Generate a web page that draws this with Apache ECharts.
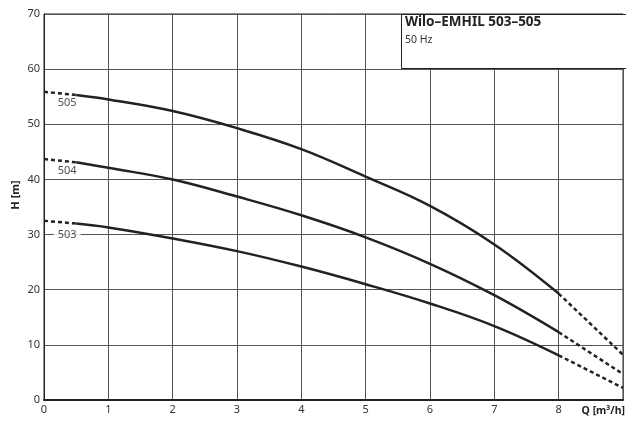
<!DOCTYPE html>
<html>
<head>
<meta charset="utf-8">
<script src="https://cdn.jsdelivr.net/npm/echarts@6/dist/echarts.min.js"></script>
<style>html,body{margin:0;padding:0;background:#fff;}#c{width:626px;height:421px;}</style>
</head>
<body>
<div id="c"></div>
<script>
// Flow Q [m3/h] sample points for the solid (operating) part
const qSolid = [0.5, 1, 2, 3, 4, 5, 6, 7, 8];
const h505 = [55.3, 54.5, 52.4, 49.3, 45.5, 40.5, 35.2, 28.2, 19.3];
const h504 = [43.1, 42.1, 40.0, 36.9, 33.5, 29.5, 24.7, 19.0, 12.3];
const h503 = [32.0, 31.3, 29.3, 27.0, 24.2, 21.0, 17.5, 13.4, 8.1];
// dashed extensions: head at Q=0 and head at Q=9
const qStart = 0, qEnd = 9;
const h505Start = 55.9, h504Start = 43.7, h503Start = 32.5;
const h505End = 8.2, h504End = 4.7, h503End = 2.2;
// curve labels
const curveNames = ['505', '504', '503'];
const labelQ = [0.36, 0.36, 0.36];
const labelH = [53.9, 41.5, 29.9];
const xTicks = [0, 1, 2, 3, 4, 5, 6, 7, 8];
const yTicks = [0, 10, 20, 30, 40, 50, 60, 70];
const titleText = 'Wilo–EMHIL 503–505';
const subText = '50 Hz';

const FONT = 'Noto Sans';
const lineColor = '#222';
const zip = (xs, ys) => xs.map((x, i) => [x, ys[i]]);

function curveSeries(h, hs, he) {
  return [
    { type: 'line', data: zip(qSolid, h), smooth: 0.4, symbol: 'none',
      lineStyle: { color: lineColor, width: 2.5 }, z: 5 },
    { type: 'line', data: [[qStart, hs], [qSolid[0], h[0]]], symbol: 'none',
      lineStyle: { color: lineColor, width: 2.5, type: [4, 3] }, z: 5 },
    { type: 'line', data: [[qSolid[qSolid.length - 1], h[h.length - 1]], [qEnd, he]], symbol: 'none',
      lineStyle: { color: lineColor, width: 2.5, type: [4, 3] }, z: 5 }
  ];
}

const chart = echarts.init(document.getElementById('c'), null, { renderer: 'canvas' });
chart.setOption({
  animation: false,
  backgroundColor: '#fff',
  textStyle: { fontFamily: FONT },
  grid: { left: 44, right: 0, top: 14, bottom: 21, show: true, borderColor: '#222', borderWidth: 1, containLabel: false },
  xAxis: {
    type: 'value', min: 0, max: 9, interval: 1,
    axisLine: { show: true, onZero: false, lineStyle: { color: '#222', width: 2 } },
    axisTick: { show: false },
    splitLine: { show: true, lineStyle: { color: '#555', width: 1 } },
    axisLabel: {
      color: '#333', fontSize: 11, fontFamily: FONT, margin: 4,
      formatter: v => (xTicks.indexOf(v) >= 0 ? String(v) : '')
    }
  },
  yAxis: {
    type: 'value', min: 0, max: 70, interval: 10,
    axisLine: { show: true, lineStyle: { color: '#222', width: 1 } },
    axisTick: { show: false },
    splitLine: { show: true, lineStyle: { color: '#555', width: 1 } },
    axisLabel: {
      color: '#333', fontSize: 11, fontFamily: FONT, margin: 4,
      formatter: v => (yTicks.indexOf(v) >= 0 ? String(v) : '')
    }
  },
  series: [
    ...curveSeries(h505, h505Start, h505End),
    ...curveSeries(h504, h504Start, h504End),
    ...curveSeries(h503, h503Start, h503End),
    {
      type: 'scatter', symbolSize: 0, z: 6,
      data: curveNames.map((n, i) => ({ value: [labelQ[i], labelH[i]], name: n })),
      label: {
        show: true, position: 'inside', formatter: p => p.name,
        color: '#222', fontSize: 11, fontFamily: FONT,
        backgroundColor: '#fff', padding: [0, 4]
      }
    }
  ],
  graphic: [
    { type: 'rect', z: 100, shape: { x: 401.5, y: 14.5, width: 230, height: 54 },
      style: { fill: '#fff', stroke: '#222', lineWidth: 1 } },
    { type: 'text', z: 101, x: 405, y: 22,
      style: { text: titleText, fill: '#222', font: 'bold 13.5px "Noto Sans"', verticalAlign: 'middle' } },
    { type: 'text', z: 101, x: 405, y: 40,
      style: { text: subText, fill: '#333', font: '10.5px "Noto Sans"', verticalAlign: 'middle' } },
    { type: 'text', z: 101, x: 16, y: 195, rotation: Math.PI / 2,
      style: { text: 'H [m]', fill: '#222', font: 'bold 11px "Noto Sans"', align: 'center', verticalAlign: 'middle' } },
    { type: 'text', z: 101, right: 1, bottom: 4,
      style: { text: 'Q [m³/h]', fill: '#222', font: 'bold 10.5px "Noto Sans"' } }
  ]
});
</script>
</body>
</html>
